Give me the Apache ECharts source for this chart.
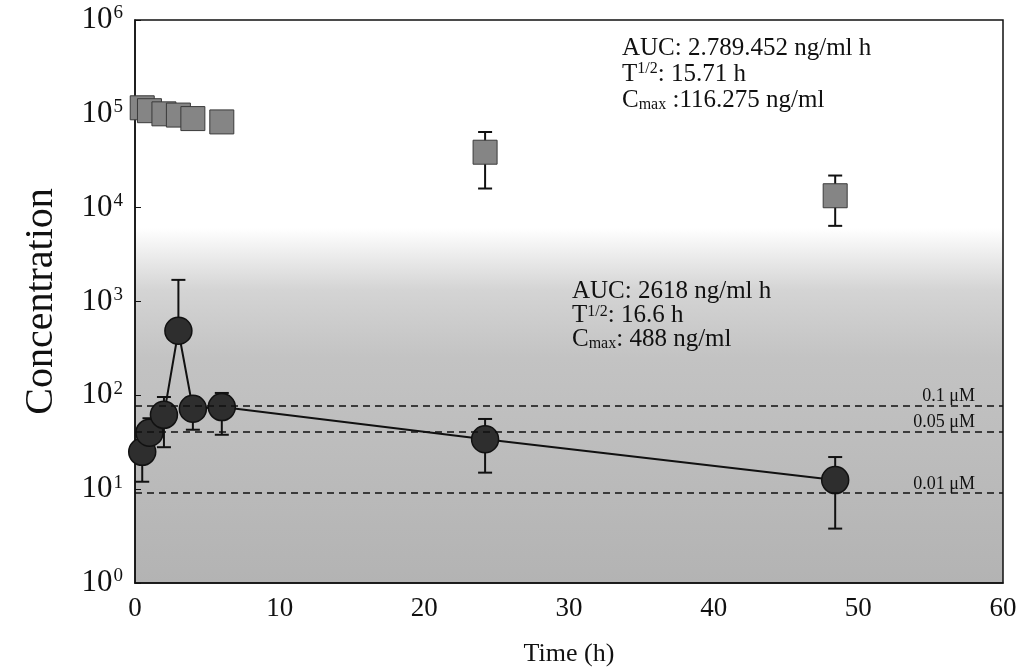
<!DOCTYPE html>
<html>
<head>
<meta charset="utf-8">
<script src="https://cdn.jsdelivr.net/npm/echarts@6/dist/echarts.min.js"></script>
<style>
  html, body { margin: 0; padding: 0; background: #fff; }
  #chart { width: 1016px; height: 668px; }
</style>
</head>
<body>
<div id="chart"></div>
<script>
// values
var xTicks = [0, 10, 20, 30, 40, 50, 60];
var yTicks = [1, 10, 100, 1000, 10000, 100000, 1000000];

// gray squares
var sqTime = [0.5, 1, 2, 3, 4, 6, 24.2, 48.4];
var sqConc = [116000, 108000, 100000, 97000, 89000, 82000, 39000, 13400];
var sqHigh = [122000, 114000, 106000, 103000, 94000, 86000, 64000, 22000];
var sqLow  = [110000, 102000, 94000, 91000, 84000, 78000, 16000, 6400];

// black circles
var ciTime = [0.5, 1, 2, 3, 4, 6, 24.2, 48.4];
var ciConc = [25, 40, 62, 488, 72, 75, 34, 12.5];
var ciHigh = [30, 57, 96, 1700, 96, 106, 56, 22];
var ciLow  = [12, 32, 28, 400, 43, 38, 15, 3.8];

// reference lines
var refNames = ['0.1 μM', '0.05 μM', '0.01 μM'];
var refValues = [78, 41, 9.1];

var serif = 'Liberation Serif';

function pairs(xs, ys) {
    return xs.map(function (x, i) { return [x, ys[i]]; });
}
function errData(xs, hi, lo) {
    return xs.map(function (x, i) { return [x, hi[i], lo[i]]; });
}
function renderErr(params, api) {
    var top = api.coord([api.value(0), api.value(1)]);
    var bot = api.coord([api.value(0), api.value(2)]);
    var w = 7;
    var st = { stroke: '#111', lineWidth: 2 };
    return {
        type: 'group',
        children: [
            { type: 'line', shape: { x1: top[0], y1: top[1], x2: bot[0], y2: bot[1] }, style: st },
            { type: 'line', shape: { x1: top[0] - w, y1: top[1], x2: top[0] + w, y2: top[1] }, style: st },
            { type: 'line', shape: { x1: bot[0] - w, y1: bot[1], x2: bot[0] + w, y2: bot[1] }, style: st }
        ]
    };
}

var chart = echarts.init(document.getElementById('chart'));

var option = {
    animation: false,
    grid: {
        left: 135, right: 13, top: 20, bottom: 85,
        outerBoundsMode: 'none',
        containLabel: false,
        show: true,
        borderColor: '#111',
        borderWidth: 1.5,
        backgroundColor: new echarts.graphic.LinearGradient(0, 0, 0, 1, [
            { offset: 0, color: '#ffffff' },
            { offset: 0.37, color: '#ffffff' },
            { offset: 0.48, color: '#d4d4d4' },
            { offset: 0.6, color: '#c3c3c3' },
            { offset: 1, color: '#b3b3b3' }
        ])
    },
    xAxis: {
        type: 'value',
        min: xTicks[0], max: xTicks[xTicks.length - 1], interval: 10,
        name: 'Time (h)',
        nameLocation: 'middle',
        nameGap: 58,
        nameTextStyle: { fontFamily: serif, fontSize: 26, color: '#111' },
        axisLine: { show: true, lineStyle: { color: '#111', width: 1.5 } },
        axisTick: { show: false },
        splitLine: { show: false },
        axisLabel: { fontFamily: serif, fontSize: 27, color: '#111', margin: 12 }
    },
    yAxis: {
        type: 'log',
        logBase: 10,
        min: yTicks[0], max: yTicks[yTicks.length - 1],
        name: 'Concentration',
        nameLocation: 'middle',
        nameGap: 74,
        nameRotate: 90,
        nameTextStyle: { fontFamily: serif, fontSize: 40, color: '#111' },
        axisLine: { show: true, lineStyle: { color: '#111', width: 1.5 } },
        axisTick: { show: true, inside: true, length: 6, lineStyle: { color: '#111' } },
        splitLine: { show: false },
        axisLabel: {
            margin: 12,
            formatter: function (v) {
                var e = Math.round(Math.log10(v));
                return '{b|10}{s|' + e + '}';
            },
            rich: {
                b: { fontFamily: serif, fontSize: 31, color: '#111', lineHeight: 32 },
                s: { fontFamily: serif, fontSize: 19, color: '#111', verticalAlign: 'top', lineHeight: 32, padding: [0, 0, 12, 1] }
            }
        }
    },
    series: [
        {
            type: 'custom',
            renderItem: renderErr,
            data: errData(sqTime, sqHigh, sqLow),
            encode: { x: 0, y: [1, 2] },
            z: 1,
            silent: true
        },
        {
            type: 'scatter',
            symbol: 'rect',
            symbolSize: 24,
            data: pairs(sqTime, sqConc),
            itemStyle: { color: '#858585', borderColor: '#3a3a3a', borderWidth: 1, opacity: 1 },
            z: 2
        },
        {
            type: 'custom',
            renderItem: renderErr,
            data: errData(ciTime, ciHigh, ciLow),
            encode: { x: 0, y: [1, 2] },
            z: 3,
            silent: true
        },
        {
            type: 'line',
            data: pairs(ciTime, ciConc),
            symbol: 'circle',
            symbolSize: 27,
            showAllSymbol: true,
            lineStyle: { color: '#111', width: 2 },
            itemStyle: { color: '#2e2e2e', borderColor: '#111', borderWidth: 1.5 },
            z: 4,
            markLine: {
                silent: true,
                symbol: ['none', 'none'],
                lineStyle: { color: '#111', type: [7, 5], width: 1.5 },
                label: {
                    position: 'insideEndTop',
                    fontFamily: serif,
                    fontSize: 18,
                    color: '#111',
                    distance: [28, 0],
                    formatter: '{b}'
                },
                data: refValues.map(function (v, i) { return { name: refNames[i], yAxis: v }; })
            }
        }
    ],
    graphic: [
        {
            type: 'text',
            left: 622, top: 35,
            style: {
                text: 'AUC: 2.789.452 ng/ml h\n{n|T}{sup|1/2}{n|: 15.71 h}\n{n|C}{sub|max}{n| :116.275 ng/ml}',
                fontFamily: serif, fontSize: 25, fill: '#111', lineHeight: 26,
                rich: {
                    n: { fontFamily: serif, fontSize: 25, fill: '#111', lineHeight: 26 },
                    sup: { fontFamily: serif, fontSize: 16, fill: '#111', verticalAlign: 'top', lineHeight: 26, padding: [0, 0, 10, 0] },
                    sub: { fontFamily: serif, fontSize: 16, fill: '#111', verticalAlign: 'bottom', lineHeight: 26, padding: [7, 0, 0, 0] }
                }
            }
        },
        {
            type: 'text',
            left: 572, top: 279,
            style: {
                text: 'AUC: 2618 ng/ml h\n{n|T}{sup|1/2}{n|: 16.6 h}\n{n|C}{sub|max}{n|: 488 ng/ml}',
                fontFamily: serif, fontSize: 25, fill: '#111', lineHeight: 24,
                rich: {
                    n: { fontFamily: serif, fontSize: 25, fill: '#111', lineHeight: 24 },
                    sup: { fontFamily: serif, fontSize: 16, fill: '#111', verticalAlign: 'top', lineHeight: 24, padding: [0, 0, 10, 0] },
                    sub: { fontFamily: serif, fontSize: 16, fill: '#111', verticalAlign: 'bottom', lineHeight: 24, padding: [7, 0, 0, 0] }
                }
            }
        }
    ]
};

chart.setOption(option);
window.addEventListener('resize', function () {
    chart.resize();
});
</script>
</body>
</html>
